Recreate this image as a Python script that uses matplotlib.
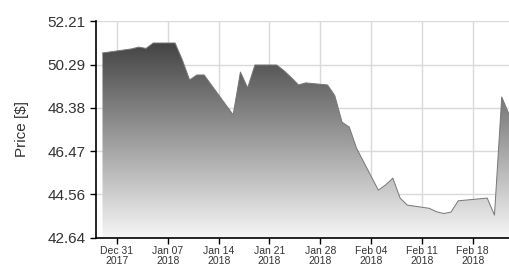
import matplotlib
matplotlib.use("Agg")
import matplotlib.pyplot as plt
import matplotlib.dates as mdates
from matplotlib.colors import LinearSegmentedColormap
from matplotlib.patches import Polygon
import numpy as np
import pandas as pd

# trading days and closing prices
dates = ["2017-12-29", "2018-01-02", "2018-01-03", "2018-01-04", "2018-01-05",
         "2018-01-08", "2018-01-09", "2018-01-10", "2018-01-11", "2018-01-12",
         "2018-01-16", "2018-01-17", "2018-01-18", "2018-01-19", "2018-01-22",
         "2018-01-23", "2018-01-24", "2018-01-25", "2018-01-26", "2018-01-29",
         "2018-01-30", "2018-01-31", "2018-02-01", "2018-02-02", "2018-02-05",
         "2018-02-06", "2018-02-07", "2018-02-08", "2018-02-09", "2018-02-12",
         "2018-02-13", "2018-02-14", "2018-02-15", "2018-02-16", "2018-02-20",
         "2018-02-21", "2018-02-22", "2018-02-23"]
prices = [50.80, 50.98, 51.06, 51.00, 51.24,
          51.24, 50.49, 49.61, 49.83, 49.83,
          48.07, 49.96, 49.26, 50.27, 50.27,
          50.02, 49.72, 49.39, 49.48, 49.39,
          48.92, 47.75, 47.53, 46.60, 44.75,
          44.98, 45.28, 44.40, 44.09, 43.95,
          43.80, 43.72, 43.78, 44.28, 44.40,
          43.65, 48.86, 48.10]

y_ticks = [42.64, 44.56, 46.47, 48.38, 50.29, 52.21]
x_ticks = ["2017-12-31", "2018-01-07", "2018-01-14", "2018-01-21",
           "2018-01-28", "2018-02-04", "2018-02-11", "2018-02-18"]
x_labels = ["Dec 31\n2017", "Jan 07\n2018", "Jan 14\n2018", "Jan 21\n2018",
            "Jan 28\n2018", "Feb 04\n2018", "Feb 11\n2018", "Feb 18\n2018"]

plt.rcParams["font.family"] = ["Liberation Sans", "DejaVu Sans"]

x = mdates.date2num(pd.to_datetime(dates))
y = np.array(prices)
ymin, ymax = y_ticks[0], y_ticks[-1]
xmin = mdates.date2num(pd.Timestamp("2017-12-28 02:30"))
xmax = mdates.date2num(pd.Timestamp("2018-02-23"))

fig = plt.figure(figsize=(5.09, 2.71), dpi=100)
ax = fig.add_axes([0.1886, 0.1218, 0.8114, 0.8007])

# vertical grey gradient clipped to the area under the line
cmap = LinearSegmentedColormap.from_list("g", ["#f6f6f6", "#303030"])
grad = np.linspace(0, 1, 256).reshape(-1, 1)
im = ax.imshow(grad, cmap=cmap, origin="lower", aspect="auto",
               extent=[xmin, xmax, ymin, ymax], zorder=2)
verts = np.vstack([[x[0], ymin], np.column_stack([x, y]), [x[-1], ymin]])
poly = Polygon(verts, closed=True, facecolor="none", edgecolor="none")
ax.add_patch(poly)
im.set_clip_path(poly)
ax.plot(x, y, color="#777777", lw=0.7, zorder=3)

ax.set_xlim(xmin, xmax)
ax.set_ylim(ymin, ymax)
ax.set_yticks(y_ticks)
ax.set_yticklabels([f"{v:.2f}" for v in y_ticks], fontsize=11, color="#333333")
ax.set_xticks(mdates.date2num(pd.to_datetime(x_ticks)))
ax.set_xticklabels(x_labels, fontsize=7.5, color="#333333", linespacing=0.9)
ax.tick_params(axis="both", direction="out", length=4, width=1, color="black")
ax.tick_params(axis="x", pad=2)
ax.set_ylabel("Price [$]", fontsize=11, color="#333333", labelpad=13)

ax.grid(True, color="#dadada", lw=1, zorder=0)
ax.set_axisbelow(True)
for s in ["top", "right"]:
    ax.spines[s].set_visible(False)
for s in ["left", "bottom"]:
    ax.spines[s].set_color("black")
    ax.spines[s].set_linewidth(1.2)

fig.savefig("out.png", dpi=100)
